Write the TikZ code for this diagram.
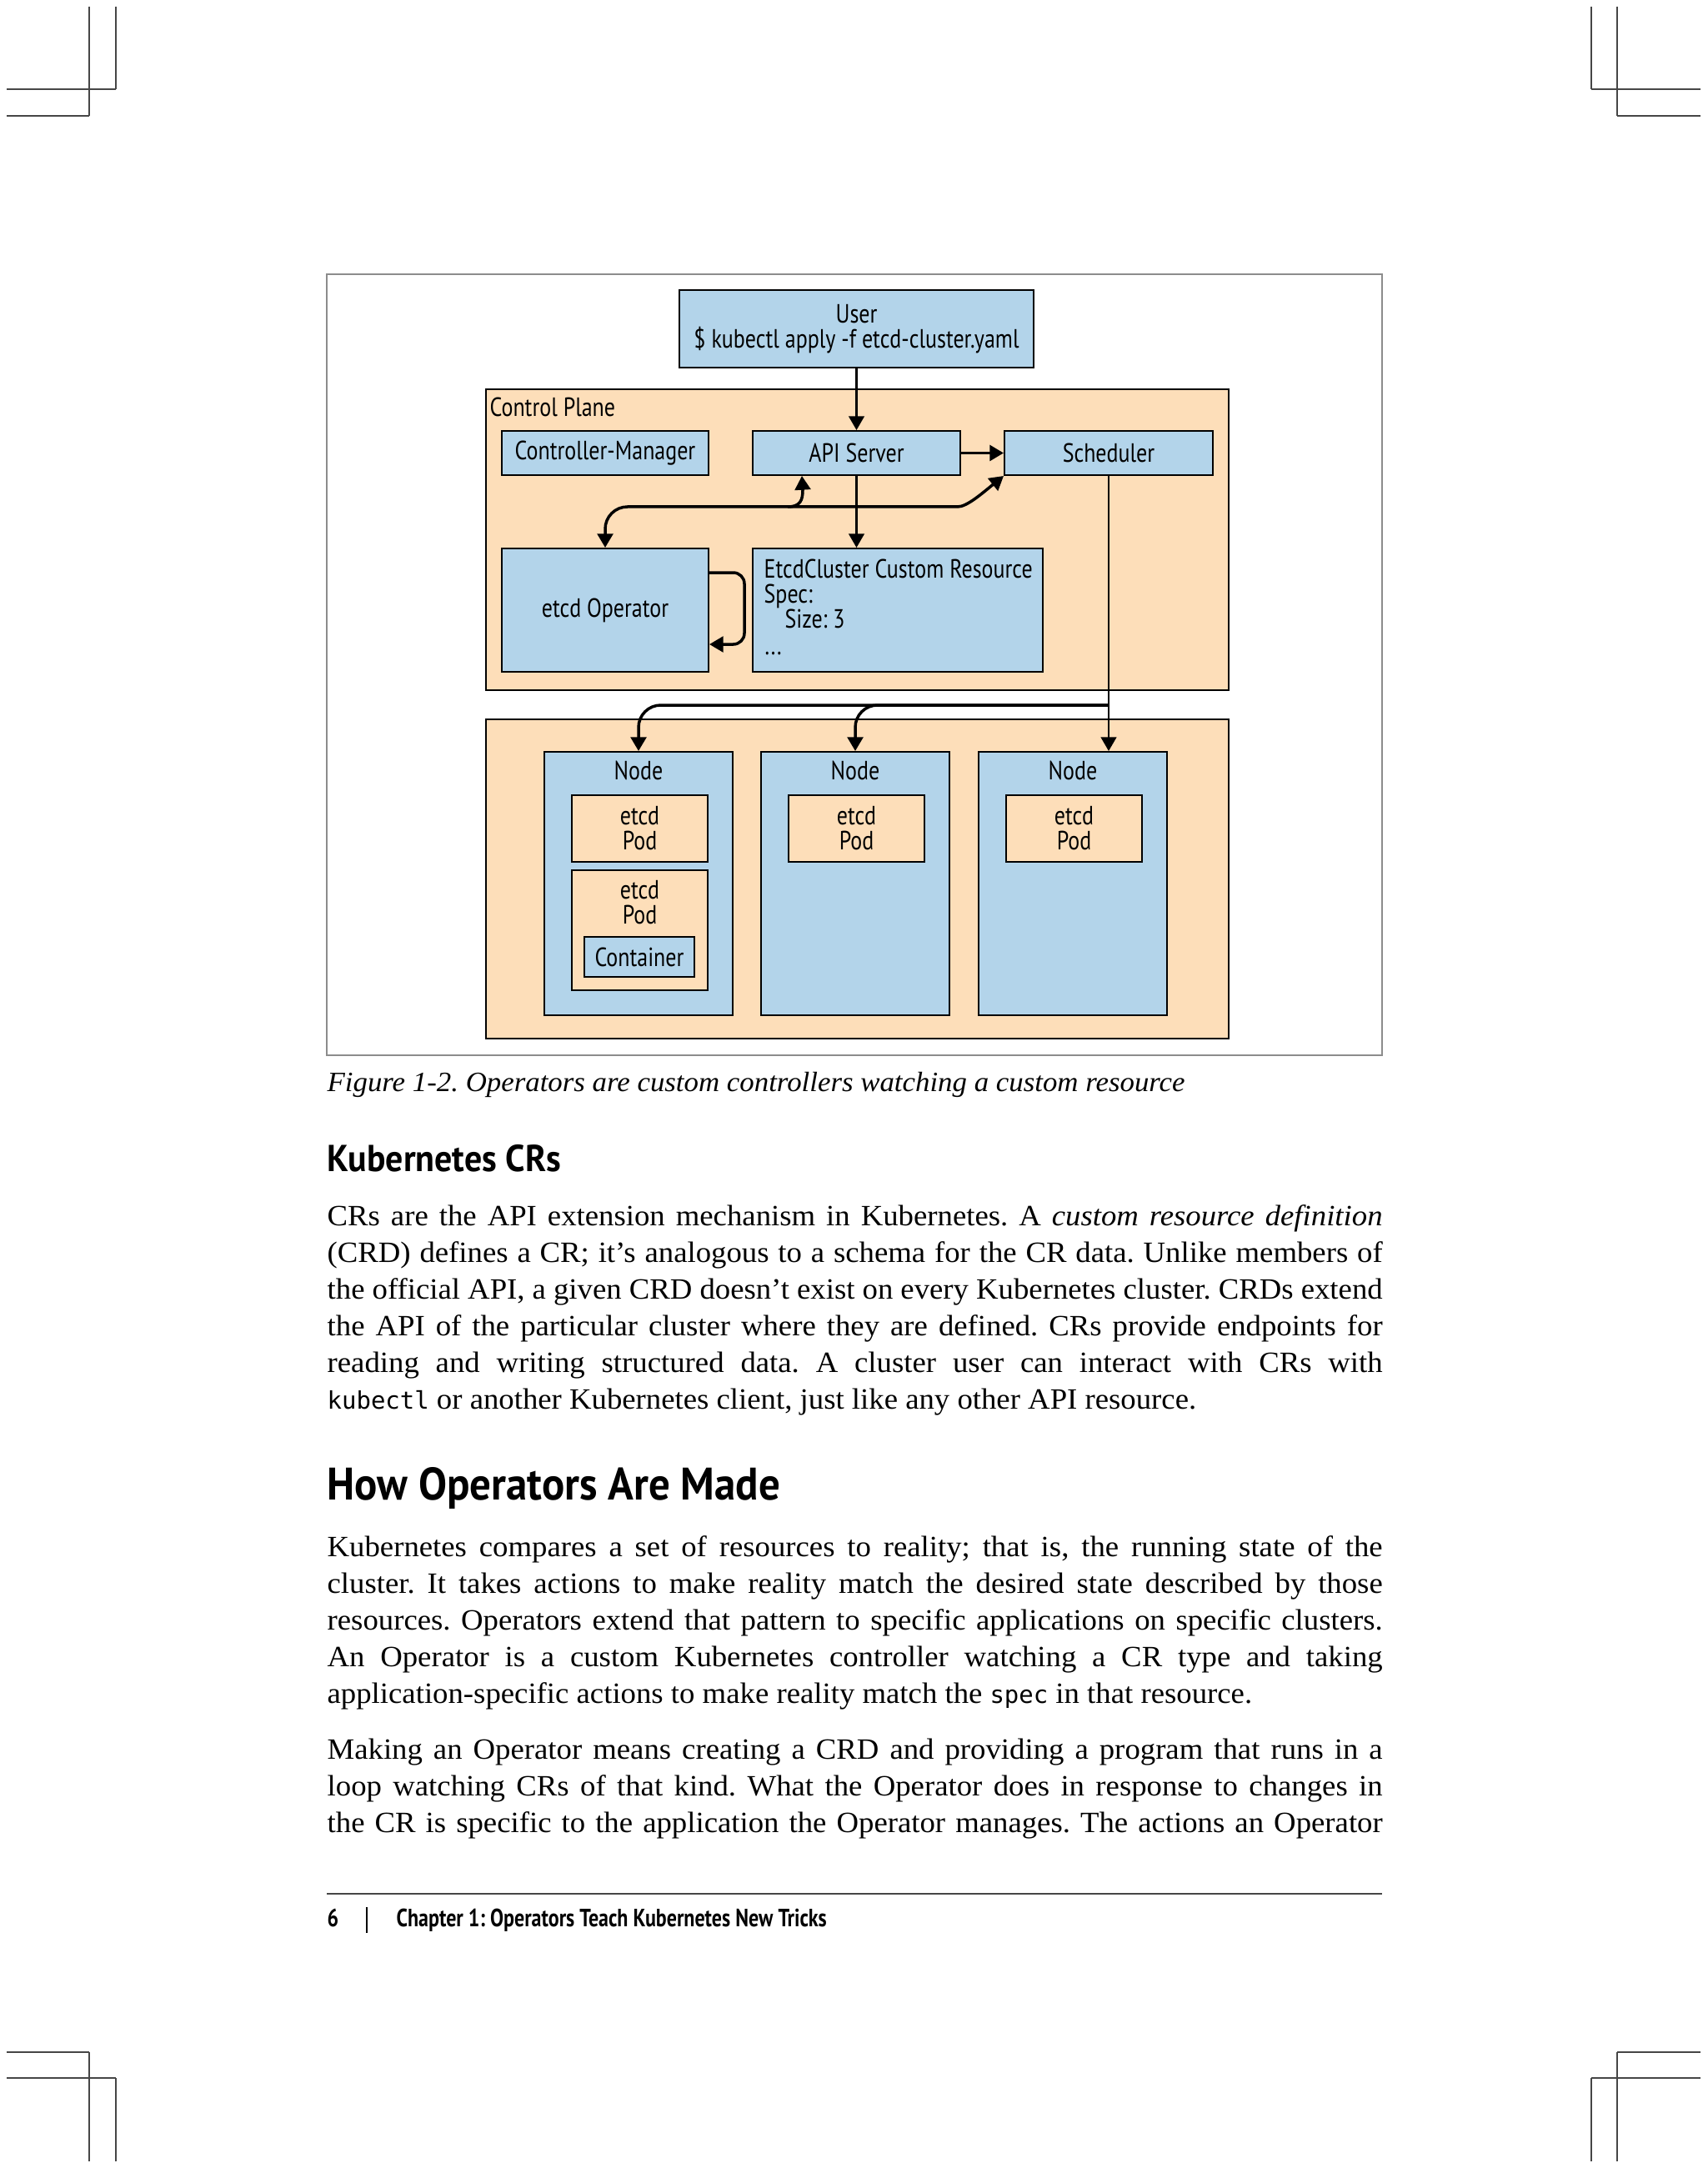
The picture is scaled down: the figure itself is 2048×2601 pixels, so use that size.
\documentclass[tikz,border=0pt]{standalone}
\usepackage{fontspec}
\setmainfont[FakeStretch=1.04]{Liberation Serif}
\setmonofont[Scale=0.82]{DejaVu Sans Mono}
\newfontfamily\diagfont[FakeStretch=0.82]{PT Sans}
\newfontfamily\headfont[FakeStretch=0.93]{PT Sans}
\newfontfamily\footfont[FakeStretch=0.8]{PT Sans}
\usetikzlibrary{arrows.meta, positioning}

\definecolor{kblue}{RGB}{179,212,234}
\definecolor{kpeach}{RGB}{253,222,185}
\definecolor{framegray}{RGB}{140,140,140}
\definecolor{cropgray}{RGB}{70,70,70}

\newcommand\pxl{0.3pt}
\newlength\bodyw
\setlength\bodyw{379.8pt}
\newcommand\jline[1]{\makebox[\bodyw][s]{#1}}
\frenchspacing

\tikzset{
  box/.style={draw=black, line width=0.6pt, fill=kblue, inner sep=0pt,
    font=\diagfont\fontsize{9.5}{9}\selectfont, align=center},
  pane/.style={draw=black, line width=0.6pt, fill=kpeach, inner sep=0pt,
    font=\diagfont\fontsize{9.5}{9}\selectfont, align=center},
  lbl/.style={inner sep=0pt, font=\diagfont\fontsize{9.5}{9}\selectfont},
  thinarr/.style={line width=0.7pt, -{Triangle[length=5pt,width=5.6pt]}},
  thickarr/.style={line width=1.05pt, -{Triangle[length=5pt,width=5.6pt]}},
  bodytxt/.style={inner sep=0pt, anchor=base west, font=\fontsize{10.6}{13}\selectfont},
  crop/.style={draw=cropgray, line width=0.6pt}
}

\begin{document}
\frenchspacing
\begin{tikzpicture}[x=0.3pt, y=-0.3pt]
\useasboundingbox[fill=white] (0,0) rectangle (2048,2601);

% crop marks
\draw[crop] (107,8) -- (107,139) (139,8) -- (139,107) (8,107) -- (139,107) (8,139) -- (107,139);
\draw[crop] (1940,8) -- (1940,139) (1909,8) -- (1909,107) (2040,107) -- (1909,107) (2040,139) -- (1940,139);
\draw[crop] (107,2593) -- (107,2462) (139,2593) -- (139,2493) (8,2493) -- (139,2493) (8,2462) -- (107,2462);
\draw[crop] (1940,2593) -- (1940,2462) (1909,2593) -- (1909,2493) (2040,2493) -- (1909,2493) (2040,2462) -- (1940,2462);

% figure frame
\draw[framegray, line width=0.6pt] (392,329) rectangle (1658,1266);

% control plane
\node[pane, minimum width=891*\pxl, minimum height=361*\pxl] (ctrlplane) at (1028.5,647.5) {};
\node[lbl, anchor=base west] (cptxt) at (587,500) {Control Plane};
\node[box, minimum width=425*\pxl, minimum height=93*\pxl] (user) at (1027.5,394.5) {User\\\$ kubectl apply -f etcd-cluster.yaml};
\node[box, minimum width=248*\pxl, minimum height=53*\pxl] (cm) at (726,543.5) {Controller-Manager};
\node[box, minimum width=249*\pxl, minimum height=53*\pxl] (api) at (1027.5,543.5) {API Server};
\node[box, minimum width=250*\pxl, minimum height=53*\pxl] (sched) at (1330,543.5) {Scheduler};
\node[box, minimum width=248*\pxl, minimum height=148*\pxl] (etcdop) at (726,732) {etcd Operator};
\node[box, minimum width=348*\pxl, minimum height=148*\pxl] (crd) at (1077,732) {};
\node[lbl, anchor=base west] (crdtitle) at (916,693) {EtcdCluster Custom Resource};
\node[lbl, anchor=base west] (crdspec) at (916,723) {Spec:};
\node[lbl, anchor=base west] (crdsize) at (941,753) {Size: 3};
\node[lbl, anchor=base west] (crddots) at (917,785) {...};

% workers
\node[pane, minimum width=891*\pxl, minimum height=383*\pxl] (workers) at (1028.5,1054.5) {};
\foreach \n/\cx in {1/766, 2/1026, 3/1287} {
  \node[box, minimum width=226*\pxl, minimum height=316*\pxl] (node\n) at (\cx,1060) {};
  \node[lbl, anchor=base] (nodetxt\n) at (\cx,935) {Node};
  \node[pane, minimum width=163*\pxl, minimum height=80*\pxl] (pod\n) at (\cx+1.5,994) {etcd\\Pod};
}
\node[pane, minimum width=163*\pxl, minimum height=144*\pxl] (podb) at (767.5,1116) {};
\node[lbl, align=center] (podbtxt) at (767.5,1083) {etcd\\Pod};
\node[box, minimum width=132*\pxl, minimum height=48*\pxl] (container) at (767,1148) {Container};

% connectors
\draw[thinarr] (user.south) -- (api.north);
\draw[thickarr] (api.east) -- (sched.west);
\draw[thinarr] (api.south) -- (api.south |- crd.north);
\draw[thickarr, {Triangle[length=5pt,width=5.6pt]}-{Triangle[length=5pt,width=5.6pt]}]
  (etcdop.north) [rounded corners=8pt] |- (1122,608) [sharp corners]
  .. controls (1160,608) and (1178,592) .. (sched.south west);
\draw[thickarr] (945,608) .. controls (960,608) and (963,600) .. (963,588) -- ([xshift=18pt]api.south west);
\draw[thickarr, rounded corners=4pt] ([yshift=13.5pt]etcdop.east) -- ++(42,0) |- ([yshift=-12.3pt]etcdop.east);
\coordinate (wsplit) at (1330,846);
\draw[thinarr] (sched.south) -- (sched.south |- node3.north);
\draw[thickarr, rounded corners=8pt] (wsplit) -| (node1.north);
\draw[thickarr, rounded corners=8pt] (wsplit) -| (node2.north);

% text of the page
\node[bodytxt, font=\fontsize{10.05}{13}\selectfont\itshape] (caption) at (392,1309)
  {Figure 1-2. Operators are custom controllers watching a custom resource};
\node[bodytxt, font=\headfont\bfseries\fontsize{13.5}{15}\selectfont] (headcr) at (392,1405) {Kubernetes CRs};
\node[bodytxt] (pa1) at (392,1470) {\jline{CRs are the API extension mechanism in Kubernetes. A \textit{custom resource definition}}};
\node[bodytxt] (pa2) at (392,1514) {\jline{(CRD) defines a CR; it's analogous to a schema for the CR data. Unlike members of}};
\node[bodytxt] (pa3) at (392,1558) {\jline{the official API, a given CRD doesn't exist on every Kubernetes cluster. CRDs extend}};
\node[bodytxt] (pa4) at (392,1602) {\jline{the API of the particular cluster where they are defined. CRs provide endpoints for}};
\node[bodytxt] (pa5) at (392,1646) {\jline{reading and writing structured data. A cluster user can interact with CRs with}};
\node[bodytxt] (pa6) at (392,1690) {\texttt{kubectl} or another Kubernetes client, just like any other API resource.};

\node[bodytxt, font=\headfont\bfseries\fontsize{16.4}{18}\selectfont] (headops) at (392,1799) {How Operators Are Made};
\node[bodytxt] (pb1) at (392,1867) {\jline{Kubernetes compares a set of resources to reality; that is, the running state of the}};
\node[bodytxt] (pb2) at (392,1911) {\jline{cluster. It takes actions to make reality match the desired state described by those}};
\node[bodytxt] (pb3) at (392,1955) {\jline{resources. Operators extend that pattern to specific applications on specific clusters.}};
\node[bodytxt] (pb4) at (392,1999) {\jline{An Operator is a custom Kubernetes controller watching a CR type and taking}};
\node[bodytxt] (pb5) at (392,2043) {application-specific actions to make reality match the \texttt{spec} in that resource.};

\node[bodytxt] (pc1) at (392,2110) {\jline{Making an Operator means creating a CRD and providing a program that runs in a}};
\node[bodytxt] (pc2) at (392,2154) {\jline{loop watching CRs of that kind. What the Operator does in response to changes in}};
\node[bodytxt] (pc3) at (392,2198) {\jline{the CR is specific to the application the Operator manages. The actions an Operator}};

% footer
\draw[cropgray, line width=0.6pt] (392,2272) -- (1658,2272);
\node[bodytxt, font=\footfont\bfseries\fontsize{9}{10}\selectfont] (pagenum) at (392,2311) {6};
\draw[black, line width=0.5pt] (440,2288) -- (440,2319);
\node[bodytxt, font=\footfont\bfseries\fontsize{9}{10}\selectfont] (runhead) at (475,2311) {Chapter 1: Operators Teach Kubernetes New Tricks};
\end{tikzpicture}
\end{document}
